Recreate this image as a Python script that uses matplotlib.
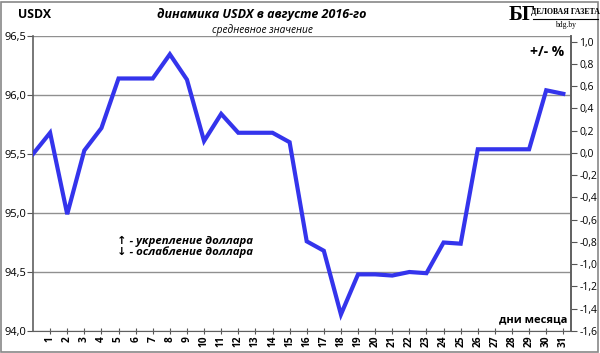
import matplotlib.pyplot as plt
from matplotlib.patches import Rectangle

# === Data ===
days = list(range(0, 32))
usdx = [95.50, 95.68, 94.99, 95.53, 95.72, 96.14, 96.14, 96.14, 96.345, 96.13,
        95.61, 95.84, 95.68, 95.68, 95.68, 95.60, 94.76, 94.68, 94.14, 94.48,
        94.48, 94.47, 94.50, 94.49, 94.75, 94.74, 95.54, 95.54, 95.54, 95.54,
        96.04, 96.01]
day_labels = [str(d) for d in range(1, 32)]
left_ticks = [94.0, 94.5, 95.0, 95.5, 96.0, 96.5]
left_labels = ["94,0", "94,5", "95,0", "95,5", "96,0", "96,5"]
right_ticks = [-1.6, -1.4, -1.2, -1.0, -0.8, -0.6, -0.4, -0.2, 0.0, 0.2, 0.4, 0.6, 0.8, 1.0]
right_labels = ["-1,6", "-1,4", "-1,2", "-1,0", "-0,8", "-0,6", "-0,4", "-0,2",
                "0,0", "0,2", "0,4", "0,6", "0,8", "1,0"]

plt.rcParams['font.family'] = ['Open Sans', 'DejaVu Sans']

fig = plt.figure(figsize=(6.0, 3.53), dpi=100)
ax = fig.add_axes([0.055, 0.0623, 0.8967, 0.8357])

# === Plot ===
ax.plot(days, usdx, color='#3434ec', lw=3, solid_joinstyle='miter', zorder=3)
ax.set_xlim(0, 31.45)
ax.set_ylim(94.0, 96.5)
ax.set_yticks(left_ticks)
ax.set_yticklabels(left_labels, fontsize=8)
ax.set_xticks(range(1, 32))
ax.set_xticklabels(day_labels, rotation=90, fontsize=7.3, fontweight='bold')
ax.grid(axis='y', color='#909090', lw=1)
ax.tick_params(axis='y', direction='out', length=4, pad=1, color='#555555')
ax.tick_params(axis='x', direction='inout', length=5, pad=1, color='#555555')
ax.spines['top'].set_visible(False)
for s in ['left', 'bottom', 'right']:
    ax.spines[s].set_color('#606060')
ax.spines['left'].set_linewidth(1.2)
ax.spines['right'].set_linewidth(1.2)

ax2 = ax.twinx()
ax2.set_ylim(-1.6, 1.05)
ax2.set_yticks(right_ticks)
ax2.set_yticklabels(right_labels, fontsize=7.5)
ax2.tick_params(axis='y', direction='out', length=4, pad=2, color='#555555')
for s in ['top', 'left', 'bottom']:
    ax2.spines[s].set_visible(False)
ax2.spines['right'].set_color('#606060')
ax2.spines['right'].set_linewidth(1.2)

# === Texts ===
fig.text(0.058, 0.958, "USDX", fontsize=8.8, fontweight='bold', ha='center', va='center')
fig.text(0.437, 0.958, "динамика USDX в августе 2016-го", fontsize=9,
         fontweight='bold', style='italic', ha='center', va='center')
fig.text(0.437, 0.915, "средневное значение", fontsize=7.3, style='italic',
         ha='center', va='center')

# logo
fig.text(0.871, 0.958, "БГ", fontsize=15, fontweight='bold', family='Liberation Serif',
         ha='center', va='center')
fig.text(0.942, 0.965, "ДЕЛОВАЯ ГАЗЕТА", fontsize=5.6, fontweight='bold',
         family='Liberation Serif', ha='center', va='center')
fig.add_artist(plt.Line2D([0.888, 0.996], [0.946, 0.946], color='black', lw=0.8))
fig.text(0.942, 0.928, "bdg.by", fontsize=5.5, family='Liberation Serif',
         ha='center', va='center')

fig.text(0.912, 0.853, "+/- %", fontsize=10, fontweight='bold', ha='center', va='center')
fig.text(0.888, 0.093, "дни месяца", fontsize=8, fontweight='bold', ha='center', va='center')
fig.text(0.195, 0.317, "↑ - укрепление доллара", fontsize=8.2, fontweight='bold',
         style='italic', ha='left', va='center')
fig.text(0.195, 0.287, "↓ - ослабление доллара", fontsize=8.2, fontweight='bold',
         style='italic', ha='left', va='center')

# outer frame
fig.add_artist(Rectangle((0.002, 0.003), 0.995, 0.992, transform=fig.transFigure,
                         fill=False, edgecolor='#888888', lw=1.2))

fig.savefig("out.png", dpi=100)
